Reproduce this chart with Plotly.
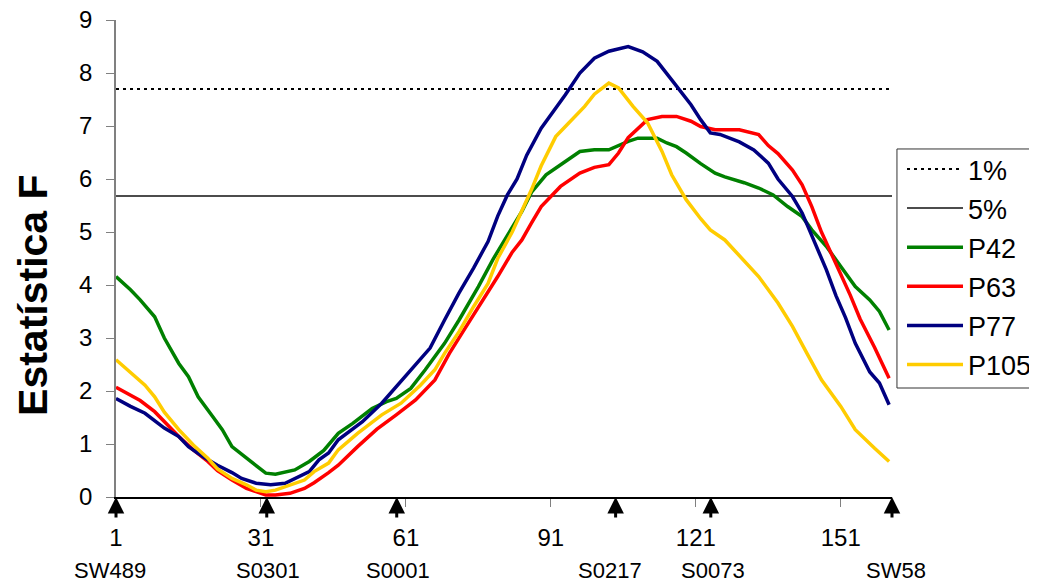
import plotly.graph_objects as go

# ---- data ----
x_p42 = [1, 4, 6, 9, 11, 14, 16, 18, 21, 23, 25, 29, 32, 34, 38, 41, 44, 47, 50, 54, 57, 59, 62, 65, 69, 72, 76, 79, 82, 85, 87, 90, 94, 97, 100, 103, 107, 109, 113, 115, 117, 119, 122, 125, 127, 131, 134, 137, 140, 143, 145, 148, 151, 154, 157, 159, 161]
y_p42 = [4.16, 3.91, 3.72, 3.40, 3.00, 2.52, 2.27, 1.89, 1.52, 1.27, 0.95, 0.67, 0.45, 0.43, 0.51, 0.67, 0.88, 1.20, 1.39, 1.67, 1.80, 1.86, 2.05, 2.40, 2.90, 3.34, 3.97, 4.48, 4.92, 5.39, 5.75, 6.08, 6.33, 6.52, 6.55, 6.55, 6.71, 6.77, 6.77, 6.68, 6.61, 6.49, 6.29, 6.11, 6.04, 5.93, 5.83, 5.70, 5.48, 5.29, 5.04, 4.73, 4.35, 3.97, 3.72, 3.50, 3.15]

x_p63 = [1, 4, 6, 9, 11, 14, 17, 20, 22, 25, 28, 30, 32, 34, 37, 40, 42, 45, 47, 51, 55, 59, 63, 67, 70, 73, 77, 80, 83, 85, 87, 89, 93, 97, 100, 103, 105, 107, 111, 114, 117, 120, 122, 125, 130, 134, 136, 138, 141, 143, 145, 147, 150, 153, 155, 158, 161]
y_p63 = [2.07, 1.93, 1.82, 1.61, 1.42, 1.14, 0.89, 0.67, 0.50, 0.32, 0.16, 0.10, 0.04, 0.04, 0.07, 0.16, 0.27, 0.46, 0.60, 0.95, 1.28, 1.55, 1.83, 2.21, 2.71, 3.15, 3.72, 4.16, 4.62, 4.85, 5.17, 5.48, 5.86, 6.11, 6.22, 6.27, 6.49, 6.78, 7.12, 7.18, 7.18, 7.09, 6.99, 6.93, 6.93, 6.84, 6.63, 6.48, 6.17, 5.89, 5.48, 5.00, 4.40, 3.80, 3.36, 2.82, 2.24]

x_p77 = [1, 4, 7, 9, 11, 14, 16, 19, 22, 25, 27, 30, 33, 36, 38, 41, 43, 45, 47, 52, 56, 60, 64, 66, 69, 72, 75, 78, 80, 82, 84, 86, 89, 94, 97, 100, 103, 107, 110, 113, 116, 120, 122, 124, 126, 128, 130, 133, 136, 138, 141, 143, 145, 148, 150, 152, 154, 157, 159, 161]
y_p77 = [1.86, 1.71, 1.58, 1.45, 1.30, 1.14, 0.95, 0.76, 0.60, 0.46, 0.35, 0.26, 0.23, 0.26, 0.35, 0.48, 0.70, 0.83, 1.08, 1.42, 1.77, 2.18, 2.59, 2.81, 3.34, 3.85, 4.32, 4.82, 5.30, 5.70, 6.00, 6.45, 6.96, 7.59, 8.00, 8.28, 8.41, 8.50, 8.40, 8.22, 7.87, 7.40, 7.12, 6.87, 6.84, 6.77, 6.70, 6.55, 6.30, 6.00, 5.67, 5.36, 4.92, 4.29, 3.80, 3.38, 2.90, 2.36, 2.15, 1.74]

x_p105 = [1, 4, 7, 9, 11, 14, 17, 20, 22, 25, 28, 30, 32, 34, 37, 40, 42, 45, 47, 51, 56, 60, 64, 67, 69, 72, 75, 78, 80, 83, 85, 87, 89, 92, 94, 98, 100, 103, 105, 108, 111, 114, 116, 119, 122, 124, 127, 130, 134, 138, 141, 144, 147, 151, 154, 158, 161]
y_p105 = [2.59, 2.34, 2.11, 1.89, 1.60, 1.27, 0.98, 0.73, 0.53, 0.35, 0.23, 0.13, 0.10, 0.13, 0.23, 0.32, 0.48, 0.64, 0.89, 1.20, 1.55, 1.77, 2.11, 2.40, 2.71, 3.12, 3.59, 4.03, 4.50, 5.00, 5.40, 5.80, 6.25, 6.80, 6.99, 7.37, 7.60, 7.81, 7.72, 7.37, 7.06, 6.52, 6.08, 5.61, 5.25, 5.04, 4.85, 4.55, 4.16, 3.66, 3.22, 2.71, 2.21, 1.71, 1.27, 0.92, 0.67]

threshold_1pct = 7.70
threshold_5pct = 5.68

x_start = 1
x_end = 161.6
tick_vals = [1, 31, 61, 91, 121, 151]

marker_names = ["SW489", "S0301", "S0001", "S0217", "S0073", "SW58"]
marker_pos = [1, 32.2, 59.1, 104.4, 124.1, 161.6]

FONT = "Arial, Liberation Sans, sans-serif"

# small horizontal nudges (pixels) of the marker-name labels relative to their arrows
label_nudge = {"SW489": -6, "S0301": 1, "S0001": 1, "S0217": -6, "S0073": 2, "SW58": 4}

fig = go.Figure()

fig.add_trace(go.Scatter(x=[x_start, x_end], y=[threshold_1pct] * 2, mode="lines", name="1%",
                         line=dict(color="black", width=2, dash="3px,4px"), legendgroup="a"))
fig.add_trace(go.Scatter(x=[x_start, x_end], y=[threshold_5pct] * 2, mode="lines", name="5%",
                         line=dict(color="#111111", width=1.5), legendgroup="b"))

series = [("P42", x_p42, y_p42, "#008000"),
          ("P63", x_p63, y_p63, "#FF0000"),
          ("P77", x_p77, y_p77, "#000080"),
          ("P105", x_p105, y_p105, "#FFCC00")]
for name, xs, ys, col in series:
    fig.add_trace(go.Scatter(x=xs, y=ys, mode="lines", name=name,
                             line=dict(color=col, width=3.5), legendgroup=name))

# arrows under the axis marking markers
for pos, name in zip(marker_pos, marker_names):
    fig.add_annotation(x=pos, y=0, xref="x", yref="y", text="", showarrow=True,
                       ax=0, ay=22, axref="pixel", ayref="pixel",
                       arrowhead=2, arrowsize=1.1, arrowwidth=3, arrowcolor="black",
                       standoff=0, startstandoff=0)
    fig.add_annotation(x=pos, y=-0.155, xref="x", yref="paper", text=name, showarrow=False,
                       font=dict(family=FONT, size=22, color="black"),
                       xanchor="center", yanchor="middle", xshift=label_nudge[name])

# y axis title
fig.add_annotation(x=-0.107, y=0.4235, xref="paper", yref="paper", text="<b>Estatística F</b>",
                   showarrow=False, textangle=-90,
                   font=dict(family=FONT, size=41, color="black"),
                   xanchor="center", yanchor="middle")

# legend frame (extends past the right edge of the picture, as in the original)
fig.add_shape(type="rect", xref="paper", yref="paper", x0=1.0064, x1=1.30, y0=0.2285, y1=0.7296,
              line=dict(color="#333333", width=1), fillcolor="rgba(0,0,0,0)", layer="above")

fig.update_layout(
    width=1029, height=576,
    margin=dict(l=108, r=145, t=12, b=87, autoexpand=False),
    paper_bgcolor="white", plot_bgcolor="white",
    font=dict(family=FONT, size=24, color="black"),
    showlegend=True,
    legend=dict(x=1.0129, y=0.738, xanchor="left", yanchor="top",
                borderwidth=0, bgcolor="rgba(255,255,255,0)",
                font=dict(family=FONT, size=27, color="black"),
                traceorder="grouped", tracegroupgap=1.0, itemwidth=56),
    xaxis=dict(range=[x_start, x_end], tickmode="array", tickvals=tick_vals,
               ticks="outside", ticklen=8, tickcolor="#808080", tickwidth=1,
               showline=True, linecolor="black", linewidth=1.5,
               showgrid=False, zeroline=False, ticklabelstandoff=10,
               tickfont=dict(family=FONT, size=24)),
    yaxis=dict(range=[0, 9], dtick=1, ticks="outside", ticklen=8, tickcolor="#808080",
               showline=True, linecolor="#808080", linewidth=1.5,
               showgrid=False, zeroline=False, ticklabelstandoff=9,
               ticklabeloverflow="allow",
               tickfont=dict(family=FONT, size=24)),
)

fig.write_html("out.html")
